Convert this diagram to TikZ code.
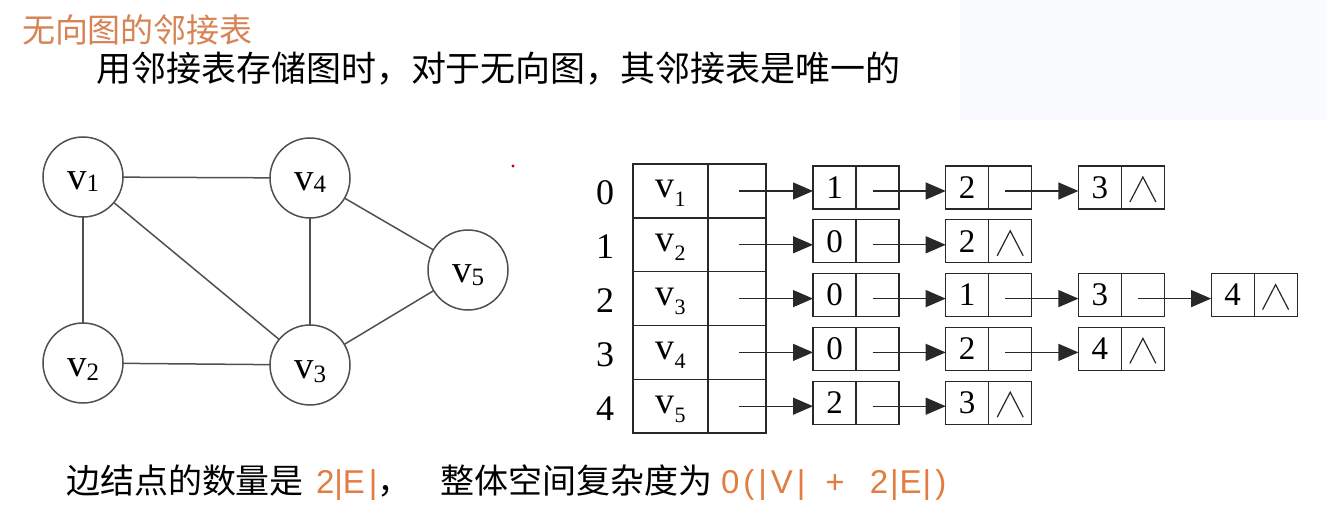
\documentclass[tikz,border=0pt]{standalone}
\usepackage{fontspec}
\setmainfont{Liberation Serif}
\newfontfamily\cjk{Noto Sans CJK SC}
\newfontfamily\fsans{Liberation Sans}
\usetikzlibrary{arrows.meta}
\definecolor{ttl}{RGB}{214,132,86}
\definecolor{frm}{RGB}{226,124,64}
\definecolor{ink}{RGB}{40,40,40}
\definecolor{edgec}{RGB}{80,80,80}
\definecolor{bgt}{RGB}{249,251,254}
\newcommand\vlab[3]{v\raisebox{-#2pt}{\fontsize{#3}{#3}\selectfont #1}}
\begin{document}
\begin{tikzpicture}[x=1pt,y=-1pt,
  every node/.style={inner sep=0pt, outer sep=0pt},
  vtx/.style={circle, draw=edgec, line width=1.5pt, minimum size=80pt,
    text height=26pt, text depth=0pt, font=\fontsize{39}{39}\selectfont},
  gedge/.style={draw=edgec, line width=1.5pt},
  vcell/.style={draw=ink, line width=1.4pt, minimum height=53.8pt, minimum width=75pt,
    text height=14pt, text depth=0pt, font=\fontsize{38}{38}\selectfont},
  pcell/.style={draw=ink, line width=1.4pt, minimum height=53.8pt, minimum width=58pt},
  idx/.style={font=\fontsize{36}{36}\selectfont},
  dcell/.style={draw=ink, line width=1.2pt, minimum height=43pt, minimum width=43pt,
    font=\fontsize{33}{33}\selectfont},
  ncell/.style={draw=ink, line width=1.2pt, minimum height=43pt, minimum width=43pt},
  nilcell/.style={draw=ink, line width=1.2pt, minimum height=43pt, minimum width=43pt,
    path picture={\draw[ink, line width=1.2pt]
      ([shift={(-13pt,-14.5pt)}]path picture bounding box.center) --
      ([shift={(0pt,10.5pt)}]path picture bounding box.center) --
      ([shift={(13pt,-14.5pt)}]path picture bounding box.center);}},
  arr/.style={draw=ink, line width=1.3pt, -{Triangle[length=20pt 0,width=17pt 0]}},
  cjkt/.style={font=\cjk\fontsize{34}{34}\selectfont},
  frml/.style={text=frm, font=\fsans\fontsize{33}{33}\selectfont}
]
\fill[white] (0,0) rectangle (1326,505);
\fill[bgt] (960,0) rectangle (1326,120);
\useasboundingbox (0,0) rectangle (1326,505);

% texts
\node[anchor=base west, text=ttl, font=\cjk\fontsize{33}{33}\selectfont] (title) at (22,43) {无向图的邻接表};
\node[anchor=base west, font=\cjk\fontsize{35}{35}\selectfont] (line2) at (96,82) {用邻接表存储图时，对于无向图，其邻接表是唯一的};
\node[anchor=base west, cjkt] (b1) at (66,493) {边结点的数量是};
\node[anchor=base west, frml] (b2) at (316,493) {2|E\kern4pt|};
\node[anchor=base west, cjkt] (b3) at (b2.base east) {，};
\node[anchor=base west, cjkt] (b4) at (440,493) {整体空间复杂度为};
\node[anchor=base west, frml] (b5) at (721,493) {0\kern4pt(\kern4pt|\kern4pt V\kern4pt|\hspace{20pt}+\hspace{25pt}2\kern2pt|\kern1pt E\kern1pt|\kern4pt)};

\fill[red!75!black] (513,166) circle (1.6pt);

% graph
\node[vtx] (v1) at (83,177) {\vlab{1}{2}{25}};
\node[vtx] (v4) at (310,178) {\vlab{4}{2}{25}};
\node[vtx] (v5) at (468,270) {\vlab{5}{3}{25}};
\node[vtx] (v2) at (83,363) {\vlab{2}{4}{25}};
\node[vtx] (v3) at (310,365) {\vlab{3}{4}{25}};
\draw[gedge] (v1) -- (v4);
\draw[gedge] (v1) -- (v2);
\draw[gedge] (v1) -- (v3);
\draw[gedge] (v4) -- (v3);
\draw[gedge] (v4) -- (v5);
\draw[gedge] (v5) -- (v3);
\draw[gedge] (v2) -- (v3);

% head table
\foreach \i in {0,...,4}{
  \pgfmathsetmacro{\Y}{191+53.8*\i}
  \pgfmathtruncatemacro{\j}{\i+1}
  \node[idx] (n\i) at (605,\Y+2) {\i};
  \node[vcell] (h\i) at (670.5,\Y) {\vlab{\j}{9}{22}};
  \node[pcell] (p\i) at (737,\Y) {};
}

% list nodes: rows 0..4
% row 0: 1 -> 2 -> 3^
\node[dcell] (d00) at (834.5,187.5) {1};  \node[ncell, anchor=west] (q00) at (d00.east) {};
\node[dcell] (d01) at (967.2,187.5) {2};  \node[ncell, anchor=west] (q01) at (d01.east) {};
\node[dcell] (d02) at (1099.9,187.5) {3}; \node[nilcell, anchor=west] (q02) at (d02.east) {};
% row 1: 0 -> 2^
\node[dcell] (d10) at (834.5,241.3) {0};  \node[ncell, anchor=west] (q10) at (d10.east) {};
\node[dcell] (d11) at (967.2,241.3) {2};  \node[nilcell, anchor=west] (q11) at (d11.east) {};
% row 2: 0 -> 1 -> 3 -> 4^
\node[dcell] (d20) at (834.5,295.1) {0};  \node[ncell, anchor=west] (q20) at (d20.east) {};
\node[dcell] (d21) at (967.2,295.1) {1};  \node[ncell, anchor=west] (q21) at (d21.east) {};
\node[dcell] (d22) at (1099.9,295.1) {3}; \node[ncell, anchor=west] (q22) at (d22.east) {};
\node[dcell] (d23) at (1232.6,295.1) {4}; \node[nilcell, anchor=west] (q23) at (d23.east) {};
% row 3: 0 -> 2 -> 4^
\node[dcell] (d30) at (834.5,348.9) {0};  \node[ncell, anchor=west] (q30) at (d30.east) {};
\node[dcell] (d31) at (967.2,348.9) {2};  \node[ncell, anchor=west] (q31) at (d31.east) {};
\node[dcell] (d32) at (1099.9,348.9) {4}; \node[nilcell, anchor=west] (q32) at (d32.east) {};
% row 4: 2 -> 3^
\node[dcell] (d40) at (834.5,402.7) {2};  \node[ncell, anchor=west] (q40) at (d40.east) {};
\node[dcell] (d41) at (967.2,402.7) {3};  \node[nilcell, anchor=west] (q41) at (d41.east) {};

% arrows from head
\foreach \i in {0,...,4}{
  \draw[arr] ([xshift=2pt]p\i.center) -- (d\i0.west |- p\i.center);
}
% arrows within lists
\draw[arr] ([xshift=-5pt]q00.center |- p0.center) -- (d01.west |- p0.center);
\draw[arr] ([xshift=-5pt]q01.center |- p0.center) -- (d02.west |- p0.center);
\draw[arr] ([xshift=-5pt]q10.center |- p1.center) -- (d11.west |- p1.center);
\draw[arr] ([xshift=-5pt]q20.center |- p2.center) -- (d21.west |- p2.center);
\draw[arr] ([xshift=-5pt]q21.center |- p2.center) -- (d22.west |- p2.center);
\draw[arr] ([xshift=-5pt]q22.center |- p2.center) -- (d23.west |- p2.center);
\draw[arr] ([xshift=-5pt]q30.center |- p3.center) -- (d31.west |- p3.center);
\draw[arr] ([xshift=-5pt]q31.center |- p3.center) -- (d32.west |- p3.center);
\draw[arr] ([xshift=-5pt]q40.center |- p4.center) -- (d41.west |- p4.center);
\end{tikzpicture}
\end{document}
